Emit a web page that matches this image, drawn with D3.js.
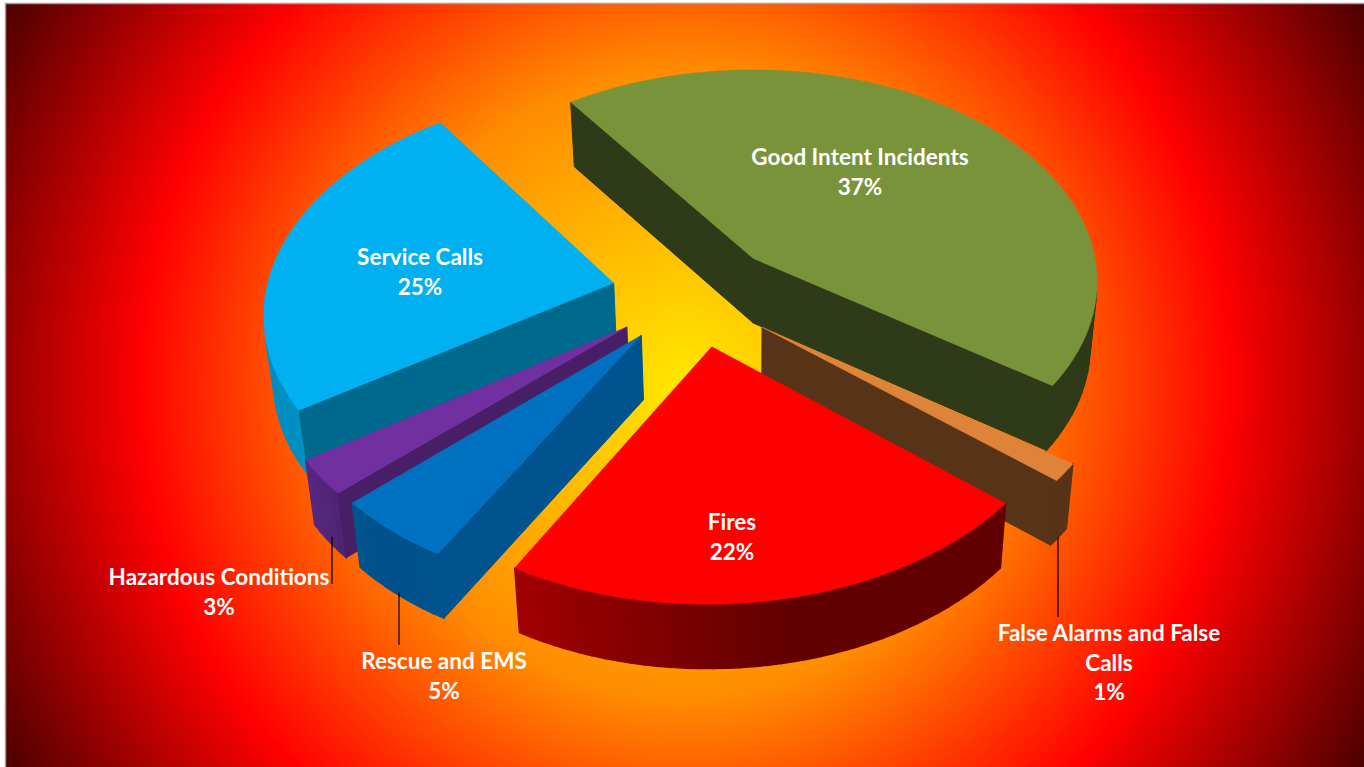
<!DOCTYPE html>
<html>
<head>
<meta charset="utf-8">
<script src="https://cdn.jsdelivr.net/npm/d3@7/dist/d3.min.js"></script>
<style>
html,body{margin:0;padding:0;background:#fff;overflow:hidden}
svg{display:block}
text{font-family:Lato,"Open Sans",sans-serif;font-weight:700;fill:#fff;font-size:22.5px;text-anchor:middle}
</style>
</head>
<body>
<svg id="chart" width="1364" height="767"></svg>
<script>
// ---- data ----
const categories = ["Good Intent Incidents","False Alarms and False Calls","Fires","Rescue and EMS","Hazardous Conditions","Service Calls"];
const drawnShares = [44.54,1.3,22.12,4.88,2.6,24.56];    // angular share as drawn
const percentLabels = [37,1,22,5,3,25];                  // share as printed

// ---- style / layout ----
const topColors = ["#79933a","#df823a","#ff0000","#0070c0","#7030a0","#00b0f0"];
const cutColors = ["#2f3a18","#573318","#600000","#00538e","#481f66","#006a8e"];
const rimColors = [["#2f3a18","#2f3a18"],["#573318","#573318"],["#620000","#620000","#a30000"],
                   ["#00558f","#00508a","#00558f"],["#4e2472","#582782"],["#0090c4","#0086ba"]];
const explode = [[.010,-.194],[.034,.123],[-.107,.210],[-.306,.159],[-.348,.122],[-.394,-.079]];
const labelLines = [["Good Intent Incidents"],["False Alarms and False","Calls"],["Fires"],["Rescue and EMS"],["Hazardous Conditions"],["Service Calls"]];
const labelAnchors = [[860,165],[1109,641],[732,530],[444,669],[219,585],[420,265]];
const leaders = [null,[1058,537,617],null,[399,592,645],[332,537,584],null];
const drawOrder = [0,1,5,4,3,2];
const lineStep = 29.5;

// ---- projection of the tilted pie plane ----
const W = 1364, H = 767;
const cx = 750, cy = 300, A = 349, B = 218, k = .11, depth = 64.5, lean = .02;
const project = ([X,Y]) => { const w = 1 - k*Y; return [cx + A*X/w, cy + B*Y/w]; };
const drop = ([x,y]) => [x + (cx-x)*lean, y + depth];
const signedArea = pts => d3.polygonArea(pts);
const line = d3.line();

const svg = d3.select("#chart");
const defs = svg.append("defs");
const grad = defs.append("radialGradient").attr("id","bg").attr("gradientUnits","userSpaceOnUse")
  .attr("cx",685).attr("cy",385).attr("r",785);
[[0,"#ffe800"],[.40,"#ff8c00"],[.695,"#ff0000"],[1,"#480000"]].forEach(([o,c])=>
  grad.append("stop").attr("offset",o).attr("stop-color",c));

svg.append("rect").attr("x",5.5).attr("y",3.5).attr("width",W).attr("height",H)
  .attr("fill","url(#bg)").attr("stroke","#a0a0a0").attr("stroke-width",1.5);

const deg = Math.PI/180;
const pie = d3.pie().sort(null).startAngle(-35.5*deg).endAngle(324.5*deg);
const arcs = pie(drawnShares);

function face(g, pts, color, sw){
  g.append("path").attr("d", line(pts)+"Z").attr("fill",color).attr("stroke",color).attr("stroke-width",sw);
}

drawOrder.forEach(i=>{
  const a = arcs[i], [ox,oy] = explode[i];
  const ground = t => [ox + Math.sin(t), oy - Math.cos(t)];
  const n = Math.max(3, Math.ceil((a.endAngle-a.startAngle)/(2*deg)));
  const angles = d3.range(n+1).map(j => a.startAngle + (a.endAngle-a.startAngle)*j/n);
  const rim = angles.map(t => project(ground(t)));
  const apex = project([ox,oy]);
  const g = svg.append("g").attr("class","slice").attr("data-name",categories[i]);

  const rimScale = d3.scaleLinear()
    .domain(d3.range(rimColors[i].length).map(j => j/(rimColors[i].length-1)))
    .range(rimColors[i]).interpolate(d3.interpolateRgb);

  // side faces, hidden ones culled (d3.polygonArea is positive for faces turned to the viewer here)
  const wall = (p,q,color,sw) => {
    const quad = [p,q,drop(q),drop(p)];
    if (signedArea(quad) > 0) face(g,quad,color,sw);
  };
  for (let j=0;j<n;j++) wall(rim[j],rim[j+1],rimScale((j+.5)/n),1.2);
  wall(apex,rim[0],cutColors[i],1);
  wall(rim[n],apex,cutColors[i],1);

  // top face
  g.append("path").attr("d",line([apex,...rim])+"Z").attr("fill",topColors[i])
    .attr("stroke",topColors[i]).attr("stroke-width",.5);
});

// leader lines
leaders.forEach(l=>{
  if(!l) return;
  svg.append("line").attr("x1",l[0]).attr("x2",l[0]).attr("y1",l[1]).attr("y2",l[2])
    .attr("stroke","#000").attr("stroke-width",1.2);
});

// labels
categories.forEach((c,i)=>{
  const [x,y] = labelAnchors[i];
  const rows = [...labelLines[i], percentLabels[i]+"%"];
  rows.forEach((r,j)=> svg.append("text").attr("x",x).attr("y",y+j*lineStep).text(r));
});
</script>
</body>
</html>
